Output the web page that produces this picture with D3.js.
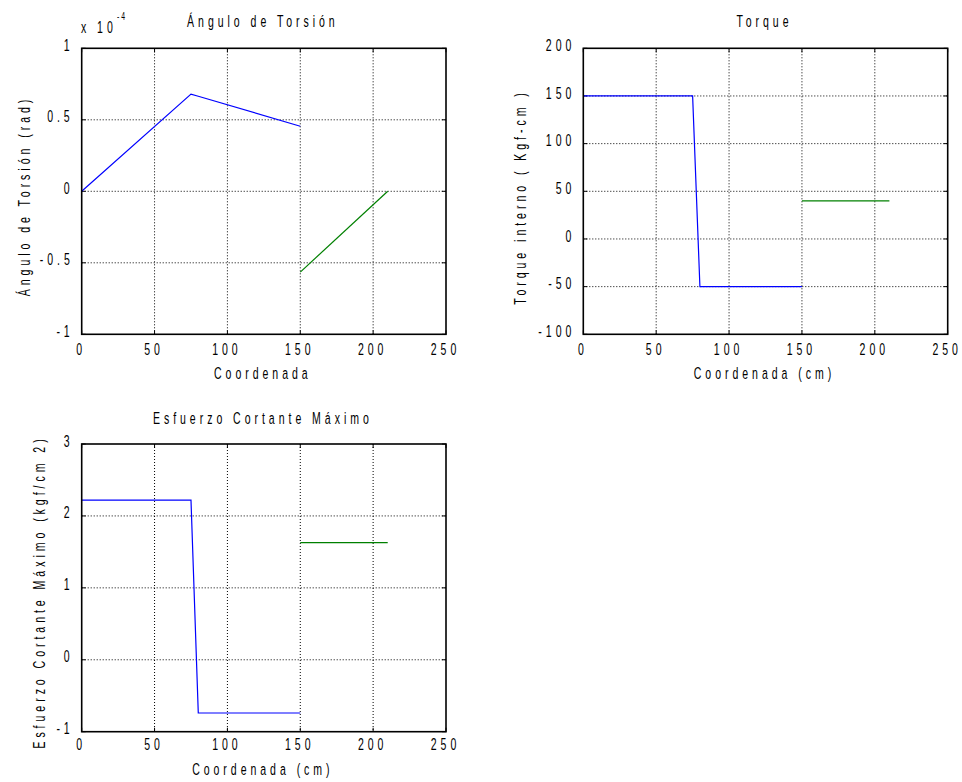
<!DOCTYPE html>
<meta charset="utf-8">
<title>Torsion</title>
<body>
<script src="https://cdn.jsdelivr.net/npm/d3@7"></script>
<style>
html, body {
    margin: 0;
    background: #fff;
}
svg text {
    font-family: "Liberation Sans", Arial, sans-serif;
    font-size: 17px;
    letter-spacing: 6.4px;
    fill: #000;
}
.grid line {
    stroke: #000;
    stroke-width: 1;
    stroke-dasharray: 1,2;
}
</style>
<script>
// eje x comun (cm)
var xTicks = [0, 50, 100, 150, 200, 250];

// angulo de torsion (x 1e-4 rad)
var anguloTicks = [-1, -0.5, 0, 0.5, 1];
var anguloTramo1 = [[0, 0], [75, 0.68], [80, 0.665], [150, 0.455]];
var anguloTramo2 = [[150, -0.565], [210, 0]];

// torque interno (kgf-cm)
var torqueTicks = [-100, -50, 0, 50, 100, 150, 200];
var torqueTramo1 = [[0, 150], [75, 150], [80, -50], [150, -50]];
var torqueTramo2 = [[150, 40], [210, 40]];

// esfuerzo cortante maximo (kgf/cm2)
var esfuerzoTicks = [-1, 0, 1, 2, 3];
var esfuerzoTramo1 = [[0, 2.22], [75, 2.22], [80, -0.74], [150, -0.74]];
var esfuerzoTramo2 = [[150, 1.63], [210, 1.63]];

var SX = 0.62;   // letra angosta, como la fuente de MATLAB

var svg = d3.select("body").append("svg")
    .attr("width", 962)
    .attr("height", 782);

function panel(o) {
    var x = d3.scaleLinear().domain([0, 250]).range([o.left, o.right]),
        y = d3.scaleLinear().domain(o.yDomain).range([o.bottom, o.top]);

    var g = svg.append("g");

    var grid = g.append("g").attr("class", "grid");
    grid.selectAll("line.v")
        .data(xTicks.slice(1, -1))
        .enter().append("line")
        .attr("x1", x).attr("x2", x)
        .attr("y1", o.top).attr("y2", o.bottom);
    grid.selectAll("line.h")
        .data(o.yTicks.slice(1, -1))
        .enter().append("line")
        .attr("x1", o.left).attr("x2", o.right)
        .attr("y1", y).attr("y2", y);

    // marcas cortas hacia dentro en los cuatro lados
    var tk = g.append("g").attr("stroke", "#000").attr("stroke-width", 1);
    xTicks.forEach(function(v) {
        tk.append("line").attr("x1", x(v)).attr("x2", x(v)).attr("y1", o.bottom).attr("y2", o.bottom - 4);
        tk.append("line").attr("x1", x(v)).attr("x2", x(v)).attr("y1", o.top).attr("y2", o.top + 4);
    });
    o.yTicks.forEach(function(v) {
        tk.append("line").attr("x1", o.left).attr("x2", o.left + 4).attr("y1", y(v)).attr("y2", y(v));
        tk.append("line").attr("x1", o.right).attr("x2", o.right - 4).attr("y1", y(v)).attr("y2", y(v));
    });

    var line = d3.line()
        .x(function(d) { return x(d[0]); })
        .y(function(d) { return y(d[1]); });

    g.append("path").datum(o.s1)
        .attr("d", line).attr("fill", "none")
        .attr("stroke", "#0000ff").attr("stroke-width", 1.2);
    g.append("path").datum(o.s2)
        .attr("d", line).attr("fill", "none")
        .attr("stroke", "#008000").attr("stroke-width", 1.2);

    g.append("rect")
        .attr("x", o.left).attr("y", o.top)
        .attr("width", o.right - o.left).attr("height", o.bottom - o.top)
        .attr("fill", "none").attr("stroke", "#000").attr("stroke-width", 1.6);

    var xa = g.append("g")
        .attr("transform", "translate(0," + o.bottom + ")")
        .call(d3.axisBottom(x).tickValues(xTicks).tickSize(0).tickPadding(o.xPad).tickFormat(String));
    var ya = g.append("g")
        .attr("transform", "translate(" + o.left + ",0)")
        .call(d3.axisLeft(y).tickValues(o.yTicks).tickSize(0).tickPadding(8).tickFormat(String));
    [xa, ya].forEach(function(a) {
        a.select(".domain").remove();
        a.attr("font-family", null).attr("font-size", null);
    });
    xa.selectAll("text").attr("x", -1);
    ya.selectAll("text").attr("dy", "0.12em");

    var cx = (o.left + o.right) / 2 - 1;
    g.append("text")
        .attr("x", cx).attr("y", o.titleY)
        .attr("text-anchor", "middle").text(o.title);
    g.append("text")
        .attr("x", cx).attr("y", o.xLabelY)
        .attr("text-anchor", "middle").text(o.xLabel);
    g.append("text")
        .attr("class", "ylab")
        .attr("data-x", o.yLabelX).attr("data-y", o.yLabelC)
        .attr("text-anchor", "middle").text(o.yLabel);
    return g;
}

var p1 = panel({
    left: 81.7, right: 446, top: 48.3, bottom: 334.3,
    yDomain: [-1, 1], yTicks: anguloTicks,
    s1: anguloTramo1, s2: anguloTramo2,
    xPad: 8.5, titleY: 27, xLabelY: 379,
    title: "Ángulo de Torsión", xLabel: "Coordenada",
    yLabel: "Ángulo de Torsión (rad)", yLabelX: 29.5, yLabelC: 196
});

// factor de escala del eje y
p1.append("text").attr("x", 81).attr("y", 33).text("x 10");
p1.append("text").attr("x", 117).attr("y", 20)
    .style("font-size", "11px").style("letter-spacing", "3px").text("-4");

panel({
    left: 583.3, right: 947.7, top: 48.3, bottom: 334.3,
    yDomain: [-100, 200], yTicks: torqueTicks,
    s1: torqueTramo1, s2: torqueTramo2,
    xPad: 8.5, titleY: 27, xLabelY: 379,
    title: "Torque", xLabel: "Coordenada (cm)",
    yLabel: "Torque interno ( Kgf-cm )", yLabelX: 526, yLabelC: 197
});

panel({
    left: 81.7, right: 446, top: 444, bottom: 731.7,
    yDomain: [-1, 3], yTicks: esfuerzoTicks,
    s1: esfuerzoTramo1, s2: esfuerzoTramo2,
    xPad: 6, titleY: 424, xLabelY: 775,
    title: "Esfuerzo Cortante Máximo", xLabel: "Coordenada (cm)",
    yLabel: "Esfuerzo Cortante Máximo (kgf/cm 2)", yLabelX: 44.5, yLabelC: 592
});

// estrechar todos los textos en horizontal
svg.selectAll("text").each(function() {
    var t = d3.select(this);
    if (t.classed("ylab")) {
        t.attr("transform", "translate(" + t.attr("data-x") + "," + t.attr("data-y") + ") rotate(-90) scale(" + SX + ",1)");
        return;
    }
    var tx = +t.attr("x") || 0,
        ty = +t.attr("y") || 0;
    t.attr("x", null).attr("y", null)
        .attr("transform", "translate(" + tx + "," + ty + ") scale(" + SX + ",1)");
});
</script>
